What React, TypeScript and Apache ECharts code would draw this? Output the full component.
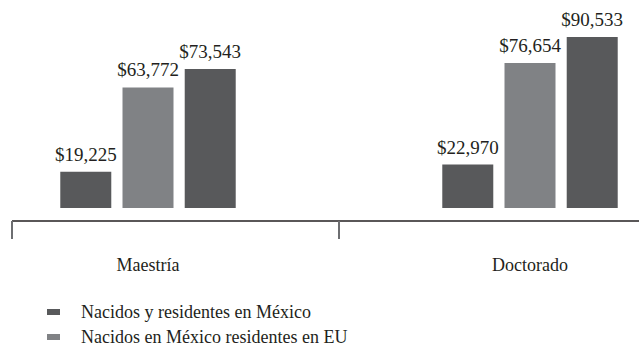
import React, { useEffect, useRef } from "react";
import * as echarts from "echarts";

const categories = ["Maestría", "Doctorado"];
const seriesNames = [
  "Nacidos y residentes en México",
  "Nacidos en México residentes en EU",
  "Nacidos en EU de origen mexicano",
];
const seriesA = [19225, 22970];
const seriesB = [63772, 76654];
const seriesC = [73543, 90533];
const seriesColors = ["#58595b", "#808285", "#58595b"];

const FONT = "'Liberation Serif', 'Times New Roman', serif";

const fmt = (v: number) => "$" + v.toLocaleString("en-US");

export default function App() {
  const ref = useRef<HTMLDivElement>(null);
  useEffect(() => {
    if (!ref.current) return;
    const chart = echarts.init(ref.current, null, { renderer: "svg" });
    const mk = (name: string, data: number[], color: string) => ({
      name,
      type: "bar",
      data,
      barWidth: 51,
      barGap: "22%",
      itemStyle: { color },
      label: {
        show: true,
        position: "top",
        distance: 8,
        color: "#231f20",
        fontFamily: FONT,
        fontSize: 19,
        formatter: (p: any) => fmt(p.value),
      },
    });
    chart.setOption({
      animation: false,
      textStyle: { fontFamily: FONT },
      grid: {
        left: -43,
        width: 764,
        top: 19,
        bottom: 141,
        containLabel: false,
        outerBoundsMode: "none",
      },
      xAxis: {
        type: "category",
        data: categories,
        axisLine: { show: false },
        axisTick: { show: false },
        axisLabel: {
          margin: 48,
          color: "#231f20",
          fontFamily: FONT,
          fontSize: 18,
        },
        splitLine: { show: false },
      },
      yAxis: {
        type: "value",
        min: 0,
        max: 100000,
        show: false,
        splitLine: { show: false },
      },
      legend: {
        data: [seriesNames[0], seriesNames[1]],
        orient: "vertical",
        left: 47,
        top: 303,
        padding: 0,
        itemGap: 7,
        itemWidth: 13,
        itemHeight: 6,
        icon: "rect",
        textStyle: {
          fontFamily: FONT,
          fontSize: 18,
          color: "#231f20",
          padding: [0, 0, 0, 16],
        },
      },
      series: [
        mk(seriesNames[0], seriesA, seriesColors[0]),
        mk(seriesNames[1], seriesB, seriesColors[1]),
        mk(seriesNames[2], seriesC, seriesColors[2]),
      ],
    });
    const c0 = chart.convertToPixel({ xAxisIndex: 0 }, categories[0]) as number;
    const c1 = chart.convertToPixel({ xAxisIndex: 0 }, categories[1]) as number;
    const boundary = Math.round((c0 + c1) / 2);
    chart.setOption({
      graphic: [
        {
          type: "line",
          shape: { x1: 12, y1: 221, x2: 639, y2: 221 },
          style: { stroke: "#231f20", lineWidth: 1.5 },
        },
        {
          type: "line",
          shape: { x1: 12, y1: 221, x2: 12, y2: 239 },
          style: { stroke: "#6d6e71", lineWidth: 2 },
        },
        {
          type: "line",
          shape: { x1: boundary, y1: 221, x2: boundary, y2: 239 },
          style: { stroke: "#6d6e71", lineWidth: 2 },
        },
      ],
    });
    return () => chart.dispose();
  }, []);
  return (
    <div
      ref={ref}
      style={{ position: "fixed", left: 0, top: 0, width: 639, height: 349, background: "#fff" }}
    />
  );
}
